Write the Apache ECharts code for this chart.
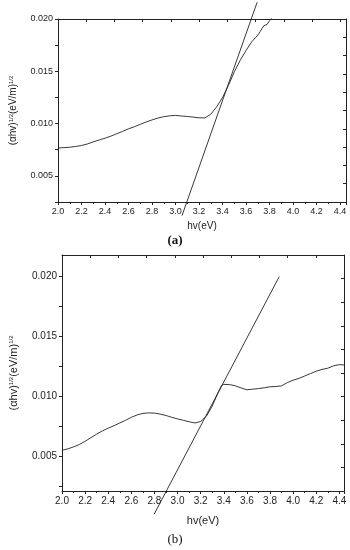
<!DOCTYPE html>
<html><head><meta charset="utf-8">
<script src="https://cdn.jsdelivr.net/npm/echarts@6/dist/echarts.min.js"></script>
<style>html,body{margin:0;padding:0;background:#fff}#c{width:350px;height:550px}</style>
</head><body><div id="c"></div>
<script>
// Panel (a) measured curve
const curveAX = [2.00,2.05,2.10,2.15,2.20,2.25,2.30,2.35,2.40,2.45,2.50,2.55,2.60,2.65,2.70,2.75,2.80,2.85,2.90,2.95,3.00,3.05,3.10,3.15,3.20,3.25,3.30,3.35,3.40,3.45,3.50,3.55,3.60,3.65,3.70,3.72,3.75,3.78,3.80,3.82];
const curveAY = [0.00766,0.00770,0.00774,0.00781,0.00790,0.00805,0.00825,0.00843,0.00860,0.00880,0.00903,0.00925,0.00950,0.00970,0.00993,0.01015,0.01035,0.01053,0.01066,0.01074,0.01078,0.01072,0.01068,0.01062,0.01055,0.01054,0.01090,0.01160,0.01250,0.01365,0.01495,0.01605,0.01700,0.01785,0.01845,0.01880,0.01935,0.01950,0.01985,0.02010];
// Panel (a) fitted line
const fitAX = [3.055, 3.694];
const fitAY = [0.0012, 0.0216];
// Panel (b) measured curve
const curveBX = [2.00,2.05,2.10,2.15,2.20,2.25,2.30,2.35,2.40,2.45,2.50,2.55,2.60,2.65,2.70,2.75,2.80,2.85,2.90,2.95,3.00,3.05,3.10,3.15,3.20,3.25,3.30,3.35,3.38,3.40,3.45,3.50,3.55,3.60,3.65,3.70,3.75,3.80,3.85,3.90,3.95,4.00,4.05,4.10,4.15,4.20,4.25,4.30,4.35,4.40,4.44];
const curveBY = [0.00549,0.00562,0.00578,0.00598,0.00625,0.00655,0.00685,0.00712,0.00735,0.00755,0.00778,0.00800,0.00825,0.00845,0.00858,0.00862,0.00860,0.00852,0.00840,0.00825,0.00812,0.00800,0.00788,0.00778,0.00790,0.00835,0.00920,0.01030,0.01090,0.01100,0.01098,0.01088,0.01070,0.01055,0.01060,0.01065,0.01072,0.01080,0.01082,0.01088,0.01115,0.01135,0.01150,0.01170,0.01190,0.01210,0.01225,0.01235,0.01255,0.01265,0.01262];
// Panel (b) fitted line
const fitBX = [2.797, 3.88];
const fitBY = [0.00016, 0.020];
// Tick labels and texts
const xTickLabels = ['2.0','2.2','2.4','2.6','2.8','3.0','3.2','3.4','3.6','3.8','4.0','4.2','4.4'];
const yTickLabels = ['0.005','0.010','0.015','0.020'];
const yTicksA = [0.0025, 0.005, 0.0075, 0.010, 0.0125, 0.015, 0.0175, 0.020];
const yTicksB = [0.0025, 0.005, 0.0075, 0.010, 0.0125, 0.015, 0.0175, 0.020];
const captions = ['(a)', '(b)'];
const xName = 'hv(eV)';

const zip = (xs, ys) => xs.map((x, i) => [x, ys[i]]);
const C = '#222';
const FONT = 'Liberation Sans, Arial, sans-serif';
function xFmt(v){ const s = v.toFixed(1); return (Math.abs(v*5 - Math.round(v*5)) < 1e-6 && xTickLabels.includes(s)) ? s : ''; }

function panel(gi, yMin, yMax, xMax, topMax, yTicks, fs, nameGap, xNameGap) {
  return {
    x: [{
      gridIndex: gi, type: 'value', min: 2.0, max: xMax, interval: 0.2,
      axisLine: {show: true, onZero: false, lineStyle: {color: C, width: 1}},
      axisTick: {show: true, length: 3, lineStyle: {color: C}},
      minorTick: {show: true, splitNumber: 2, length: 2, lineStyle: {color: C}},
      splitLine: {show: false},
      axisLabel: {formatter: xFmt, color: C, fontSize: fs, fontFamily: FONT, margin: 5},
      name: xName, nameLocation: 'middle', nameGap: xNameGap,
      nameTextStyle: {color: C, fontSize: fs + 1, fontFamily: FONT}
    }, {
      gridIndex: gi, type: 'value', position: 'top', min: 0, max: topMax, interval: 1,
      axisLine: {show: true, onZero: false, lineStyle: {color: C, width: 1}},
      axisTick: {show: true, inside: true, length: 3, lineStyle: {color: C}},
      axisLabel: {show: false}, splitLine: {show: false}
    }],
    y: [{
      gridIndex: gi, type: 'value', min: yMin, max: yMax,
      axisLine: {show: true, onZero: false, lineStyle: {color: C, width: 1}},
      axisTick: {show: true, length: 3, lineStyle: {color: C}, customValues: yTicks},
      splitLine: {show: false},
      axisLabel: {color: C, fontSize: fs, fontFamily: FONT, margin: 5,
        customValues: yTickLabels.map(Number), formatter: v => v.toFixed(3)},
      name: '{n|(αhv)}{s|1/2}{n|(eV/m)}{s|1/2}', nameLocation: 'middle', nameGap: nameGap, nameRotate: 90,
      nameTextStyle: {color: C, fontFamily: FONT,
        rich: {n: {fontSize: fs + 1, color: C, fontFamily: FONT},
               s: {fontSize: 6, color: C, verticalAlign: 'top', fontFamily: FONT}}}
    }, {
      gridIndex: gi, type: 'value', position: 'right', min: 0, max: 10, interval: 1,
      axisLine: {show: true, onZero: false, lineStyle: {color: C, width: 1}},
      axisTick: {show: true, inside: true, length: 3, lineStyle: {color: C}},
      axisLabel: {show: false}, splitLine: {show: false}
    }]
  };
}

const pa = panel(0, 0.0025, 0.020, 4.45, 10.2, yTicksA, 9, 40, 19);
const pb = panel(1, 0.0021, 0.0218, 4.44, 10, yTicksB, 10, 43, 24);

const option = {
  animation: false,
  backgroundColor: '#fff',
  grid: [
    {left: 58, top: 19, width: 288, height: 183},
    {left: 59, top: 255, width: 285, height: 236}
  ],
  xAxis: [...pa.x, ...pb.x],
  yAxis: [...pa.y, ...pb.y],
  series: [
    {type: 'line', xAxisIndex: 0, yAxisIndex: 0, data: zip(curveAX, curveAY), showSymbol: false, lineStyle: {color: C, width: 0.9}},
    {type: 'line', xAxisIndex: 0, yAxisIndex: 0, data: zip(fitAX, fitAY), showSymbol: false, clip: false, lineStyle: {color: C, width: 0.9}},
    {type: 'line', xAxisIndex: 2, yAxisIndex: 2, data: zip(curveBX, curveBY), showSymbol: false, lineStyle: {color: C, width: 0.9}},
    {type: 'line', xAxisIndex: 2, yAxisIndex: 2, data: zip(fitBX, fitBY), showSymbol: false, clip: false, lineStyle: {color: C, width: 0.9}}
  ],
  graphic: [
    {type: 'text', left: 'center', top: 234, style: {text: captions[0], fill: '#111', font: 'bold 13px "Liberation Serif", "DejaVu Serif", serif'}},
    {type: 'text', left: 'center', top: 533, style: {text: captions[1], fill: '#111', font: '13px "Liberation Serif", "DejaVu Serif", serif'}}
  ]
};
const chart = echarts.init(document.getElementById('c'), null, {renderer: 'canvas'});
chart.setOption(option);
</script></body></html>
